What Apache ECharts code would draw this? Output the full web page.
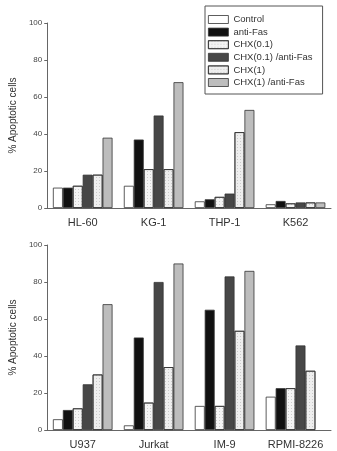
<!DOCTYPE html>
<html><head><meta charset="utf-8">
<script src="https://cdn.jsdelivr.net/npm/echarts@6/dist/echarts.min.js"></script>
<style>html,body{margin:0;padding:0;background:#fff}#c{width:337px;height:451px}</style>
</head><body><div id="c"></div>
<script>
const seriesNames = ['Control','anti-Fas','CHX(0.1)','CHX(0.1) /anti-Fas','CHX(1)','CHX(1) /anti-Fas'];
const topCats = ['HL-60','KG-1','THP-1','K562'];
const bottomCats = ['U937','Jurkat','IM-9','RPMI-8226'];
const yTicks = [0,20,40,60,80,100];
// top panel values per series (order of topCats)
const topControl = [11,12,3.6,2];
const topAntiFas = [11,37,4.7,3.8];
const topChx01 = [12,21,6,2.5];
const topChx01Anti = [18,50,7.8,3];
const topChx1 = [18,21,41,3];
const topChx1Anti = [38,68,53,3];
// bottom panel values
const botControl = [5.8,2.5,13,18];
const botAntiFas = [10.8,50,65,22.6];
const botChx01 = [11.7,14.8,13,22.6];
const botChx01Anti = [24.7,80,83,45.7];
const botChx1 = [30,34,53.6,32];
const botChx1Anti = [68,90,86,null];

const fills = ['#ffffff','#111111','#f4f4f4','#474747','#eeeeee','#bdbdbd'];
const dotted = {symbol:'rect',symbolSize:1,dashArrayX:[1,2],dashArrayY:[1,2],color:'rgba(120,120,120,0.3)',rotation:0};
const decals = [null,null,dotted,null,dotted,null];
const topData = [topControl,topAntiFas,topChx01,topChx01Anti,topChx1,topChx1Anti];
const botData = [botControl,botAntiFas,botChx01,botChx01Anti,botChx1,botChx1Anti];

const font = 'Liberation Sans, Arial, sans-serif';
function yAxis(idx){
  return {type:'value',gridIndex:idx,min:0,max:100,interval:20,
    name:'% Apoptotic cells',nameLocation:'middle',nameGap:28,
    nameTextStyle:{fontSize:10,color:'#333',fontFamily:font},
    axisLine:{show:true,lineStyle:{color:'#666',width:1}},
    axisTick:{show:true,length:3,lineStyle:{color:'#666'}},
    axisLabel:{fontSize:8,color:'#444',margin:5,fontFamily:font,formatter:v=>yTicks.includes(v)?String(v):''},
    splitLine:{show:false}};
}
function xAxis(idx,cats){
  return {type:'category',gridIndex:idx,data:cats,
    axisLine:{lineStyle:{color:'#666',width:1}},
    axisTick:{show:false},
    axisLabel:{fontSize:11,color:'#333',margin:9,interval:0,fontFamily:font}};
}
const series=[];
[topData,botData].forEach((d,g)=>{
  d.forEach((vals,i)=>{
    const st={color:fills[i],borderColor:'#333',borderWidth:0.8};
    if(decals[i]) st.decal=decals[i];
    series.push({name:seriesNames[i],type:'bar',xAxisIndex:g,yAxisIndex:g,data:vals,
      barGap:'0%',barCategoryGap:'16%',itemStyle:st,emphasis:{disabled:true},animation:false});
  });
});
const chart=echarts.init(document.getElementById('c'),null,{renderer:'canvas'});
chart.setOption({
  animation:false,
  grid:[{left:37,right:6,top:23,height:185},{left:37,right:6,top:245,height:185}],
  xAxis:[xAxis(0,topCats),xAxis(1,bottomCats)],
  yAxis:[yAxis(0),yAxis(1)],
  legend:{orient:'vertical',left:205,top:6,
    data:seriesNames.map((n,i)=>({name:n,icon:'rect',itemStyle:Object.assign({color:fills[i],borderColor:'#333',borderWidth:0.8},decals[i]?{decal:decals[i]}:{})})),
    itemWidth:20,itemHeight:8,itemGap:1.6,
    borderColor:'#555',borderWidth:1,padding:[8,10,6,3],backgroundColor:'#fff',
    textStyle:{fontSize:9.5,color:'#333',fontFamily:font,lineHeight:11},
    selectedMode:false},
  series:series
});
</script></body></html>
